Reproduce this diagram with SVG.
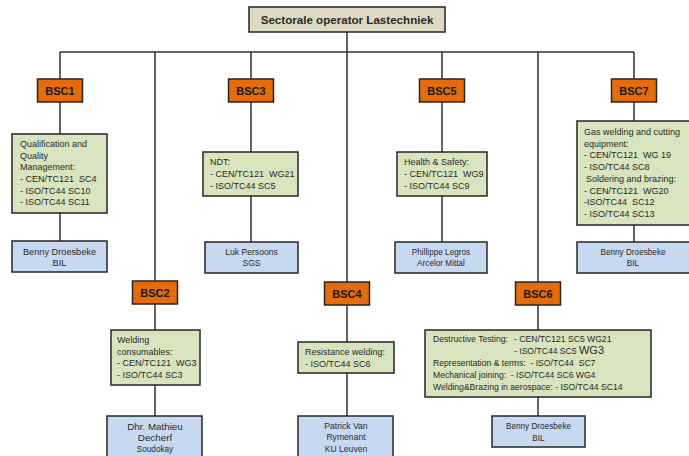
<svg xmlns="http://www.w3.org/2000/svg" width="689" height="456" viewBox="0 0 689 456">
<style>
.box{stroke:#262626;stroke-width:1.5}
.title{fill:#DDD9C3}
.bsc{fill:#E46C0A}
.grn{fill:#D7E4BD}
.blu{fill:#C6D9F1}
.ln{stroke:#333;stroke-width:1.5;fill:none}
text{font-family:"Liberation Sans",Arial,sans-serif;fill:#2a2a2a;white-space:pre}
.tt{font-size:11.6px;font-weight:bold;text-anchor:middle}
.bt{font-size:11px;font-weight:bold;text-anchor:middle;fill:#1a1a1a}
.gt{font-size:9px}
.g6{font-size:8.6px}
.pt{font-size:9.2px;text-anchor:middle}
.st{font-size:8.6px;text-anchor:middle}
.sm{font-size:8.2px;text-anchor:middle}
</style>
<rect width="689" height="456" fill="#fff"/>
<g id="connectors">
<path class="ln" d="M347 32V52M60 52H634"/>
<path class="ln" d="M60 52V79M60 102V134M60 213V241"/>
<path class="ln" d="M155 52V281M155 304V330M155 385V416"/>
<path class="ln" d="M251 52V79M251 102V152M251 196V242"/>
<path class="ln" d="M347 52V282M347 305V342M347 373V416"/>
<path class="ln" d="M442 52V79M442 102V152M442 196V242"/>
<path class="ln" d="M538 52V282M538 305V330M538 397V416"/>
<path class="ln" d="M634 52V79M634 102V121M634 225V242"/>
</g>
<g id="root"><rect class="box title" x="249" y="7" width="196" height="25"/><text class="tt" x="347" y="24">Sectorale operator Lastechniek</text></g>
<g id="bsc1"><rect class="box bsc" x="37.5" y="79" width="45" height="23"/><text class="bt" x="60" y="94.5">BSC1</text></g>
<g id="bsc3"><rect class="box bsc" x="228.5" y="79" width="45" height="23"/><text class="bt" x="251" y="94.5">BSC3</text></g>
<g id="bsc5"><rect class="box bsc" x="419.5" y="79" width="45" height="23"/><text class="bt" x="442" y="94.5">BSC5</text></g>
<g id="bsc7"><rect class="box bsc" x="611.5" y="79" width="45" height="23"/><text class="bt" x="634" y="94.5">BSC7</text></g>
<g id="bsc2"><rect class="box bsc" x="132.5" y="281" width="45" height="23"/><text class="bt" x="155" y="296.5">BSC2</text></g>
<g id="bsc4"><rect class="box bsc" x="324.5" y="282" width="45" height="23"/><text class="bt" x="347" y="297.5">BSC4</text></g>
<g id="bsc6"><rect class="box bsc" x="515.5" y="282" width="45" height="23"/><text class="bt" x="538" y="297.5">BSC6</text></g>
<g id="g1"><rect class="box grn" x="12" y="134" width="95" height="79"/>
<text class="gt"><tspan x="20" y="147">Qualification and</tspan><tspan x="20" y="158.5">Quality</tspan><tspan x="20" y="170">Management:</tspan><tspan x="20" y="182">- CEN/TC121  SC4</tspan><tspan x="20" y="193.5">- ISO/TC44 SC10</tspan><tspan x="20" y="205">- ISO/TC44 SC11</tspan></text></g>
<g id="g2"><rect class="box grn" x="111" y="330" width="89" height="55"/>
<text class="gt"><tspan x="117" y="343">Welding</tspan><tspan x="117" y="354.5">consumables:</tspan><tspan x="117" y="366">- CEN/TC121  WG3</tspan><tspan x="117" y="377.5">- ISO/TC44 SC3</tspan></text></g>
<g id="g3"><rect class="box grn" x="203" y="152" width="95" height="44"/>
<text class="gt"><tspan x="210" y="165">NDT:</tspan><tspan x="210" y="177">- CEN/TC121  WG21</tspan><tspan x="210" y="189">- ISO/TC44 SC5</tspan></text></g>
<g id="g4"><rect class="box grn" x="298" y="342" width="96" height="31"/>
<text class="gt"><tspan x="305" y="355">Resistance welding:</tspan><tspan x="305" y="366.5">- ISO/TC44 SC6</tspan></text></g>
<g id="g5"><rect class="box grn" x="397" y="152" width="90" height="44"/>
<text class="gt"><tspan x="404" y="165">Health &amp; Safety:</tspan><tspan x="404" y="177">- CEN/TC121  WG9</tspan><tspan x="404" y="189">- ISO/TC44 SC9</tspan></text></g>
<g id="g6"><rect class="box grn" x="425" y="330" width="226" height="67"/>
<text class="g6"><tspan x="433" y="342">Destructive Testing:</tspan><tspan x="514" y="342">- CEN/TC121 SC5 WG21</tspan><tspan x="514" y="354">- ISO/TC44 SC5 <tspan style="font-size:11px">WG3</tspan></tspan><tspan x="433" y="366">Representation &amp; terms:  - ISO/TC44  SC7</tspan><tspan x="433" y="378">Mechanical joining:  - ISO/TC44 SC6 WG4</tspan><tspan x="433" y="389.5">Welding&amp;Brazing in aerospace: - ISO/TC44 SC14</tspan></text></g>
<g id="g7"><rect class="box grn" x="577" y="121" width="120" height="104"/>
<text class="gt"><tspan x="584" y="135">Gas welding and cutting</tspan><tspan x="584" y="146.5">equipment:</tspan><tspan x="584" y="158">- CEN/TC121  WG 19</tspan><tspan x="584" y="170">- ISO/TC44 SC8</tspan><tspan x="586" y="182">Soldering and brazing:</tspan><tspan x="584" y="193.5">- CEN/TC121  WG20</tspan><tspan x="584" y="205">-ISO/TC44  SC12</tspan><tspan x="584" y="217">- ISO/TC44 SC13</tspan></text></g>
<g id="p1"><rect class="box blu" x="12" y="241" width="95" height="31"/><text class="pt"><tspan x="59.5" y="255">Benny Droesbeke</tspan><tspan x="59.5" y="266">BIL</tspan></text></g>
<g id="p2"><rect class="box blu" x="107" y="416" width="95" height="45"/><text class="pt"><tspan x="155" y="429.5" style="font-size:9.8px">Dhr. Mathieu</tspan><tspan x="155" y="441" style="font-size:9.8px">Decherf</tspan><tspan x="155" y="451.5" style="font-size:8.2px">Soudokay</tspan></text></g>
<g id="p3"><rect class="box blu" x="205" y="242" width="93" height="31"/><text class="st"><tspan x="251.5" y="255">Luk Persoons</tspan><tspan x="251.5" y="266">SGS</tspan></text></g>
<g id="p4"><rect class="box blu" x="298" y="416" width="95" height="45"/><text class="st"><tspan x="346" y="429">Patrick Van</tspan><tspan x="346" y="440">Rymenant</tspan><tspan x="346" y="451.5">KU Leuven</tspan></text></g>
<g id="p5"><rect class="box blu" x="395" y="242" width="92" height="31"/><text class="sm"><tspan x="441" y="255">Phillippe Legros</tspan><tspan x="441" y="266">Arcelor Mittal</tspan></text></g>
<g id="p6"><rect class="box blu" x="492" y="416" width="93" height="31"/><text class="sm"><tspan x="538.5" y="429">Benny Droesbeke</tspan><tspan x="538.5" y="441">BIL</tspan></text></g>
<g id="p7"><rect class="box blu" x="577" y="242" width="120" height="31"/><text class="sm"><tspan x="633" y="255">Benny Droesbeke</tspan><tspan x="633" y="266">BIL</tspan></text></g>
</svg>
